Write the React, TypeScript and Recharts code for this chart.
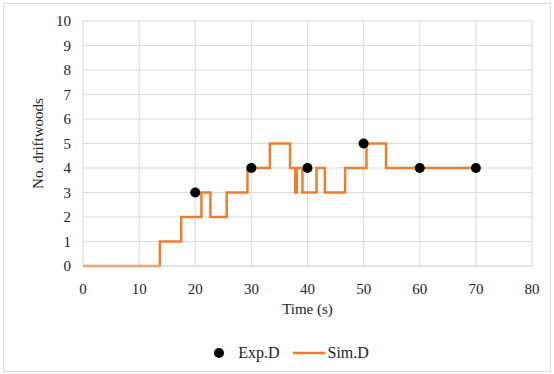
import { ComposedChart, Line, Scatter, XAxis, YAxis, CartesianGrid, Legend } from "recharts";

const expTime = [20, 30, 40, 50, 60, 70];
const expCount = [3, 4, 4, 5, 4, 4];

const simTime = [0, 13.7, 17.5, 21.1, 22.7, 25.6, 29.3, 33.3, 36.9, 37.8, 38.1, 39.1, 41.6, 43.1, 46.7, 50.5, 54.0, 70];
const simCount = [0, 1, 2, 3, 2, 3, 4, 5, 4, 3, 4, 3, 4, 3, 4, 5, 4, 4];

const xTicks = [0, 10, 20, 30, 40, 50, 60, 70, 80];
const yTicks = [0, 1, 2, 3, 4, 5, 6, 7, 8, 9, 10];

const expData = expTime.map((t, i) => ({ t, v: expCount[i] }));
const simData = simTime.map((t, i) => ({ t, v: simCount[i] }));

const font = "'Liberation Serif', 'Times New Roman', serif";
const orange = "#ED7D31";
const textStyle = { fontFamily: font, fontSize: 15, fill: "#222" };

// plain svg ticks so the serif font sticks
const XTick = (p: any) => (
	<text x={p.x} y={p.y + 14} textAnchor='middle' style={textStyle}>
		{p.payload.value}
	</text>
);
const YTick = (p: any) => (
	<text x={p.x} y={p.y + 5} textAnchor='end' style={textStyle}>
		{p.payload.value}
	</text>
);

function LegendBox() {
	return (
		<div style={{ display: "flex", justifyContent: "center", alignItems: "center", fontFamily: font, fontSize: 16, color: "#222", paddingLeft: 50 }}>
			<svg width={12} height={12} style={{ marginRight: 13 }}>
				<circle cx={6} cy={6} r={5} fill='#000' />
			</svg>
			<span style={{ marginRight: 14 }}>Exp.D</span>
			<svg width={32} height={10} style={{ marginRight: 2 }}>
				<line x1={0} y1={5} x2={32} y2={5} stroke={orange} strokeWidth={2.5} />
			</svg>
			<span>Sim.D</span>
		</div>
	);
}

export default function App() {
	return (
		<div style={{ position: "absolute", left: 0, top: 0, width: 554, height: 374, background: "#fff", fontFamily: font }}>
			<div style={{ position: "absolute", left: 3, top: 3, width: 546, height: 367, border: "1px solid #d9d9d9" }} />
			<ComposedChart width={554} height={374} margin={{ top: 21, right: 22, left: 0, bottom: 10 }}>
				<CartesianGrid stroke='#d9d9d9' />
				<XAxis
					type='number'
					dataKey='t'
					domain={[0, 80]}
					ticks={xTicks}
					height={68}
					tickLine={false}
					axisLine={{ stroke: "#d9d9d9" }}
					tickMargin={8}
					tick={<XTick />}
					label={{ value: "Time (s)", position: "insideBottom", offset: 20, style: textStyle }}
				/>
				<YAxis
					type='number'
					dataKey='v'
					domain={[0, 10]}
					ticks={yTicks}
					width={83}
					tickLine={false}
					axisLine={false}
					tickMargin={6}
					tick={<YTick />}
					label={{ value: "No. driftwoods", angle: -90, position: "center", dx: -4, style: textStyle }}
				/>
				<Line
					data={simData}
					dataKey='v'
					type='stepAfter'
					stroke={orange}
					strokeWidth={2.5}
					dot={false}
					isAnimationActive={false}
					name='Sim.D'
				/>
				<Scatter data={expData} dataKey='v' fill='#000' shape={(p: any) => <circle cx={p.cx} cy={p.cy} r={5} fill='#000' />} isAnimationActive={false} name='Exp.D' />
				<Legend verticalAlign='bottom' height={30} wrapperStyle={{ bottom: 0 }} content={() => <LegendBox />} />
			</ComposedChart>
		</div>
	);
}
